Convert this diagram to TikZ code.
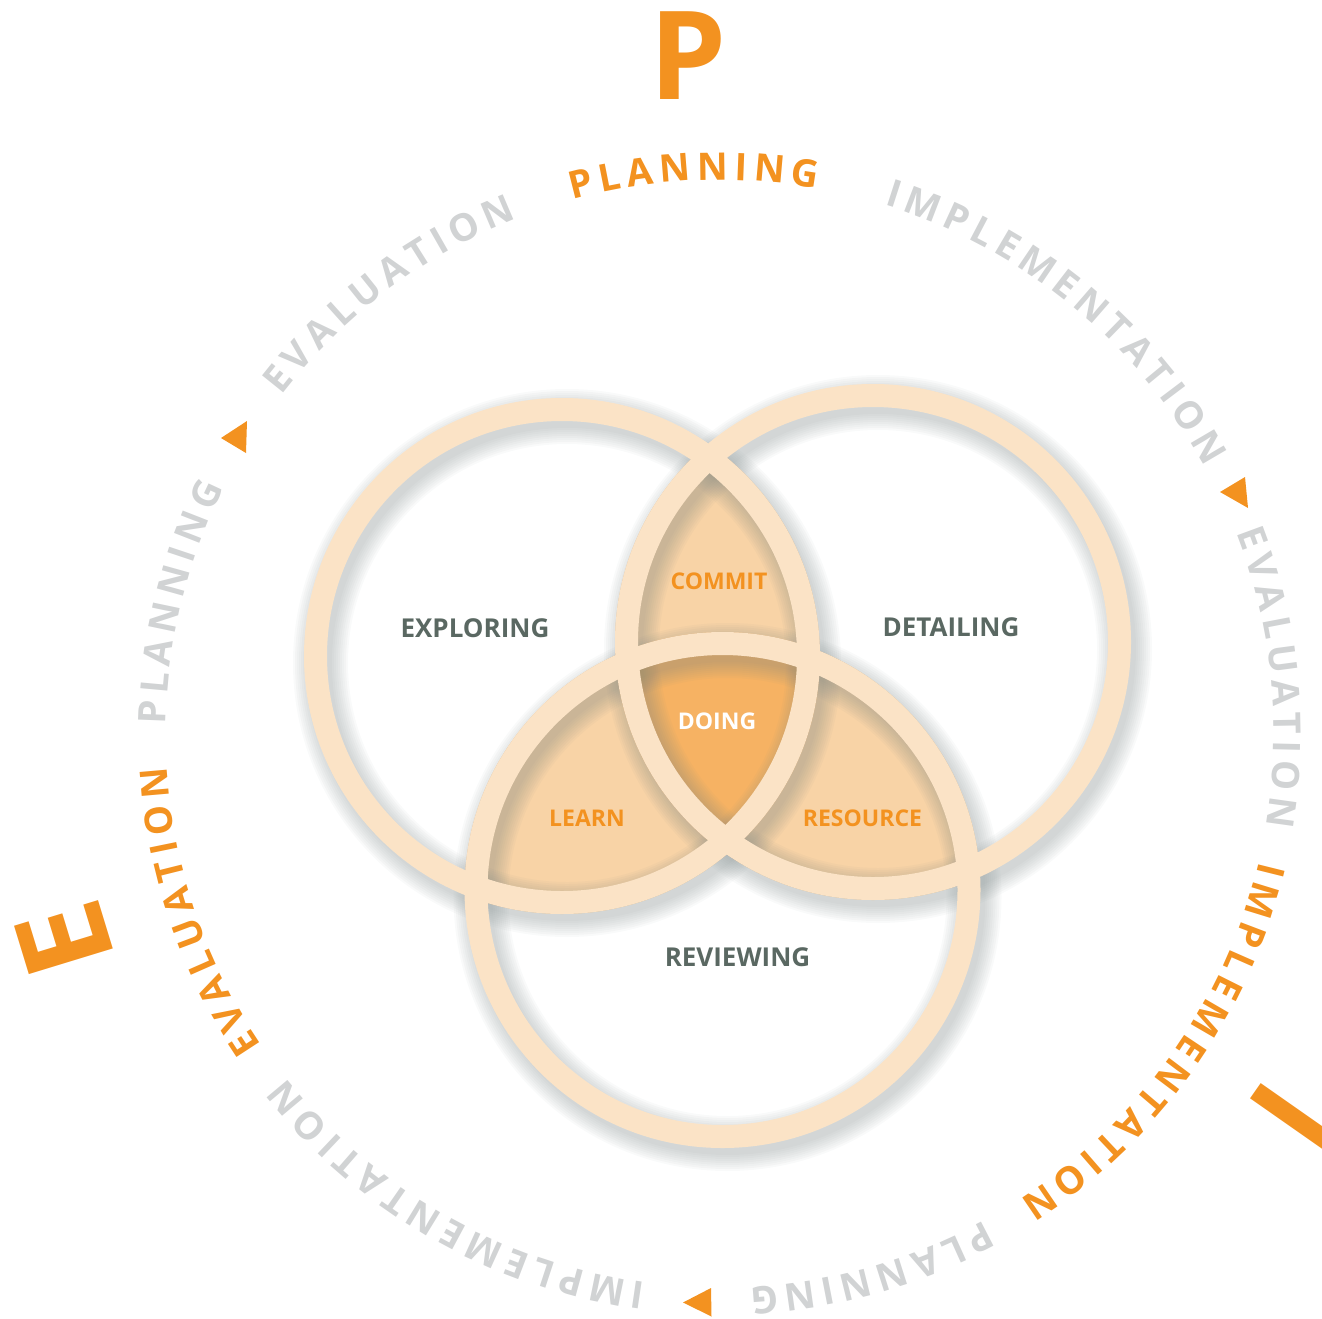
\documentclass[tikz,border=0pt]{standalone}
\usepackage{fontspec}
\setmainfont{Open Sans}
\definecolor{ringc}{RGB}{251,227,198}
\definecolor{pairc}{RGB}{248,211,166}
\definecolor{triplec}{RGB}{246,178,99}
\definecolor{orangec}{RGB}{243,146,32}
\definecolor{greyc}{RGB}{209,211,212}
\definecolor{labc}{RGB}{90,104,98}
\definecolor{shadc}{RGB}{120,132,132}
\newcommand\ringfont{\bfseries\fontsize{38}{38}\selectfont}
\newcommand\Rc{554}
\newcommand\Cx{720}
\newcommand\Cy{734}
\newcommand\lsp{6}
\makeatletter
\newcommand\measureletters{%
  \@for\lt:=A,E,G,I,L,M,N,O,P,T,U,V\do{%
    \setbox0=\hbox{\ringfont\lt}%
    \expandafter\xdef\csname lw@\lt\endcsname{\strip@pt\wd0}}}
\newcommand\letw[1]{\csname lw@#1\endcsname}
\makeatother
\newcommand\arcword[4]{%
  \gdef\totw{0}%
  \foreach \ch in {#4}{%
    \edef\cwv{\letw{\ch}}%
    \pgfmathsetmacro\tmpw{\totw+\cwv+\lsp}%
    \xdef\totw{\tmpw}}%
  \pgfmathsetmacro\startang{#2+(\totw-\lsp)/2/\Rc*180/pi}%
  \xdef\startang{\startang}%
  \gdef\cumw{0}%
  \foreach \ch [count=\i] in {#4}{%
    \edef\cwv{\letw{\ch}}%
    \pgfmathsetmacro\ang{\startang-(\cumw+\cwv/2)/\Rc*180/pi}%
    \node[ringlet, text=#3, rotate=\ang-90] (#1\i) at ({\Cx+\Rc*cos(\ang)},{\Cy-\Rc*sin(\ang)}) {\ch};%
    \pgfmathsetmacro\tmpw{\cumw+\cwv+\lsp}%
    \xdef\cumw{\tmpw}}}
\begin{document}
\measureletters
\begin{tikzpicture}[x=1pt,y=-1pt,
  ringlet/.style={font=\ringfont, anchor=base, inner sep=0pt, outer sep=0pt},
  lab/.style={font=\bfseries\fontsize{26}{26}\selectfont, text=labc, inner sep=0pt},
  labs/.style={font=\bfseries\fontsize{23}{23}\selectfont, inner sep=0pt},
  bigl/.style={font=\bfseries\fontsize{123}{123}\selectfont, text=orangec, anchor=base, inner sep=0pt},
  ringline/.style={ringc, line width=23pt}]
\useasboundingbox (0,0) rectangle (1322,1319);
\clip (0,0) rectangle (1322,1319);
\coordinate (L) at (562,656);
\coordinate (R) at (873,642);
\coordinate (B) at (722.5,890);
% intersection fills
\begin{scope}\clip (L) circle [radius=258]; \fill[pairc] (R) circle [radius=258];\end{scope}
\begin{scope}\clip (L) circle [radius=258]; \fill[pairc] (B) circle [radius=258];\end{scope}
\begin{scope}\clip (R) circle [radius=258]; \fill[pairc] (B) circle [radius=258];\end{scope}
\begin{scope}\clip (L) circle [radius=258]; \clip (R) circle [radius=258]; \fill[triplec] (B) circle [radius=258];\end{scope}
% shadows
\foreach \lw in {23,27,31,35,39,43,47,51,55}{
  \foreach \c in {L,R,B}{
    \draw[shadc, line width=\lw pt, opacity=0.045] ([xshift=5pt,yshift=-7pt]\c) circle [radius=246.5];
  }
}
% rings
\foreach \c in {L,R,B}{\draw[ringline] (\c) circle [radius=246.5];}
% labels
\node[lab] (explo) at (475,628) {EXPLORING};
\node[lab] (detail) at (951,627) {DETAILING};
\node[lab] (review) at (737.5,957) {REVIEWING};
\node[labs, text=orangec] (commit) at (719,581.5) {COMMIT};
\node[labs, text=white] (doing) at (717,721) {DOING};
\node[labs, text=orangec] (learn) at (587,818.5) {LEARN};
\node[labs, text=orangec] (resource) at (862.5,818.5) {RESOURCE};
% ring words
\arcword{wa}{92.65}{orangec}{P,L,A,N,N,I,N,G}
\arcword{wb}{50.8}{greyc}{I,M,P,L,E,M,E,N,T,A,T,I,O,N}
\arcword{wc}{5.85}{greyc}{E,V,A,L,U,A,T,I,O,N}
\arcword{wd}{-35.3}{orangec}{I,M,P,L,E,M,E,N,T,A,T,I,O,N}
\arcword{we}{-74.2}{greyc}{P,L,A,N,N,I,N,G}
\arcword{wf}{240.3}{greyc}{I,M,P,L,E,M,E,N,T,A,T,I,O,N}
\arcword{wg}{198.8}{orangec}{E,V,A,L,U,A,T,I,O,N}
\arcword{wh}{166.3}{greyc}{P,L,A,N,N,I,N,G}
\arcword{wi}{126.9}{greyc}{E,V,A,L,U,A,T,I,O,N}
% arrows
\fill[orangec] (1220,492) -- (1245,477) -- (1248,508) -- cycle;
\fill[orangec] (221,438) -- (247,421) -- (246,453) -- cycle;
\fill[orangec] (683,1302.5) -- (711,1288) -- (711.5,1316.5) -- cycle;
% big letters
\node[bigl] (bigP) at (688,100) {P};
\node[bigl, rotate=107] (bigE) at (106,927) {E};
\node[bigl, rotate=-125] (bigI) at (1256,1091) {I};
\end{tikzpicture}
\end{document}
